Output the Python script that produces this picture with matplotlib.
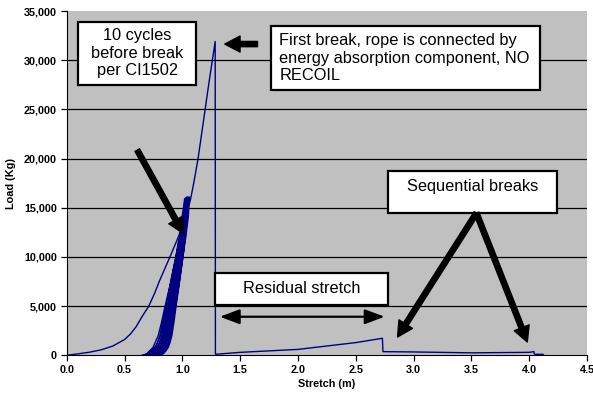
import matplotlib
matplotlib.use("Agg")
import matplotlib.pyplot as plt
from matplotlib.ticker import FuncFormatter

# first pull: loading envelope, break and the residual stretch trace
main_stretch = [0.0, 0.1, 0.2, 0.3, 0.4, 0.5, 0.55, 0.6, 0.65, 0.71, 0.76,
                0.8, 0.85, 0.9, 0.95, 1.0, 1.04, 1.07, 1.10, 1.136, 1.18,
                1.23, 1.284,
                1.286, 1.5, 2.0, 2.5, 2.73, 2.735, 3.0, 3.5, 4.0, 4.04,
                4.045, 4.12, 4.125]
main_load = [0, 150, 320, 560, 950, 1600, 2150, 2900, 3900, 5000, 6300,
             7500, 8850, 10200, 11600, 13000, 14500, 15800, 17600, 20000,
             23600, 27700, 31900,
             100, 300, 600, 1290, 1730, 370, 340, 250, 300, 370,
             100, 100, 0]

# the 10 cycles before the break (start and peak of each loop)
cycle_start = [0.65, 0.68, 0.70, 0.72, 0.73, 0.74, 0.75, 0.76, 0.78, 0.80]
cycle_peak_x = [1.02, 1.025, 1.03, 1.035, 1.04, 1.04, 1.045, 1.05, 1.055,
                1.06]
cycle_peak_load = [15900, 15950, 16000, 16050, 16100, 16000, 16050, 16100,
                   16000, 16100]

# loop shape, as fractions of the loop
load_frac_up = [0.0, 0.08, 0.15, 0.23, 0.30, 0.36, 0.42, 0.49, 0.56, 0.68,
                0.79, 0.90, 1.0]
load_up = [0.0, 0.003, 0.012, 0.03, 0.05, 0.08, 0.125, 0.21, 0.31, 0.47,
           0.62, 0.81, 1.0]
load_frac_down = [1.0, 0.97, 0.88, 0.77, 0.65, 0.53, 0.45, 0.38, 0.26,
                  0.12, 0.03]
load_down = [1.0, 0.88, 0.74, 0.60, 0.44, 0.30, 0.20, 0.125, 0.05,
             0.012, 0.0]

x_ticks = [0.0, 0.5, 1.0, 1.5, 2.0, 2.5, 3.0, 3.5, 4.0, 4.5]
y_ticks = [0, 5000, 10000, 15000, 20000, 25000, 30000, 35000]

LINE = "#000080"


def box_text(ax, x0, x1, y0, y1, text, tx, ty, ha="center"):
    """Draw a white box with a black border and some text in it."""
    ax.add_patch(plt.Rectangle((x0, y0), x1 - x0, y1 - y0,
                               facecolor="white", edgecolor="black",
                               linewidth=1.6, zorder=5))
    ax.text(tx, ty, text, ha=ha, va="center", fontsize=11.8,
            linespacing=1.22, zorder=6)


def big_arrow(ax, tail, tip):
    """Thick black arrow like the ones in the original sheet."""
    ax.annotate("", xy=tip, xytext=tail, zorder=7,
                arrowprops=dict(arrowstyle="simple,head_length=1.1,"
                                "head_width=1.15,tail_width=0.38",
                                mutation_scale=10, facecolor="black",
                                edgecolor="black", shrinkA=0, shrinkB=0))


def display_graph() -> None:
    """Load vs stretch of the rope test."""
    plt.rcParams["font.family"] = ["Liberation Sans", "DejaVu Sans"]
    fig = plt.figure(figsize=(5.93, 3.96), dpi=100)
    ax = fig.add_axes([0.1125, 0.1028, 0.8775, 0.8694])
    ax.set_facecolor("#C0C0C0")

    for y in y_ticks[1:-1]:
        ax.axhline(y, color="black", linewidth=0.9, zorder=1)

    # the loops
    for x0, xp, lp in zip(cycle_start, cycle_peak_x, cycle_peak_load):
        up_x = [x0 + f * (xp - x0) for f in load_frac_up]
        up_y = [v * lp for v in load_up]
        dn_x = [x0 + f * (xp - x0) for f in load_frac_down]
        dn_y = [v * lp for v in load_down]
        ax.plot(up_x + dn_x, up_y + dn_y, color=LINE, linewidth=1.0,
                zorder=2)

    ax.plot(main_stretch, main_load, color=LINE, linewidth=1.0, zorder=3)

    ax.set_xlim(0, 4.5)
    ax.set_ylim(0, 35000)
    ax.set_xticks(x_ticks)
    ax.set_yticks(y_ticks)
    ax.xaxis.set_major_formatter(FuncFormatter(lambda v, p: f"{v:.1f}"))
    ax.yaxis.set_major_formatter(FuncFormatter(lambda v, p: f"{v:,.0f}"))
    ax.tick_params(labelsize=7.8, length=4, width=0.9, direction="out",
                   pad=3)
    for lab in ax.get_xticklabels() + ax.get_yticklabels():
        lab.set_fontweight("bold")
    ax.spines["top"].set_visible(False)
    ax.spines["right"].set_visible(False)
    ax.set_xlabel("Stretch (m)", fontsize=7.8, fontweight="bold",
                  labelpad=3)
    ax.set_ylabel("Load (Kg)", fontsize=7.8, fontweight="bold", labelpad=6)

    # annotations
    box_text(ax, 0.10, 1.12, 27470, 33900,
             "10 cycles\nbefore break\nper CI1502", 0.61, 30700)
    box_text(ax, 1.77, 4.09, 26960, 33470,
             "First break, rope is connected by\n"
             "energy absorption component, NO\nRECOIL",
             1.84, 30200, ha="left")
    box_text(ax, 1.28, 2.775, 5110, 8370, "Residual stretch", 2.03, 6740)
    box_text(ax, 2.775, 4.24, 14460, 18740, "Sequential breaks", 3.51,
             17200)

    big_arrow(ax, (0.61, 20860), (1.007, 12400))
    big_arrow(ax, (1.65, 31640), (1.367, 31640))
    big_arrow(ax, (3.543, 14460), (2.861, 1860))
    big_arrow(ax, (3.543, 14460), (3.983, 1350))
    ax.annotate("", xy=(2.749, 3920), xytext=(1.324, 3920), zorder=7,
                arrowprops=dict(arrowstyle="<|-|>,head_length=1.2,"
                                "head_width=0.45", mutation_scale=10,
                                color="black", linewidth=1.6,
                                shrinkA=0, shrinkB=0))

    fig.savefig("out.png", dpi=100)


def main():
    display_graph()


if __name__ == "__main__":
    main()
